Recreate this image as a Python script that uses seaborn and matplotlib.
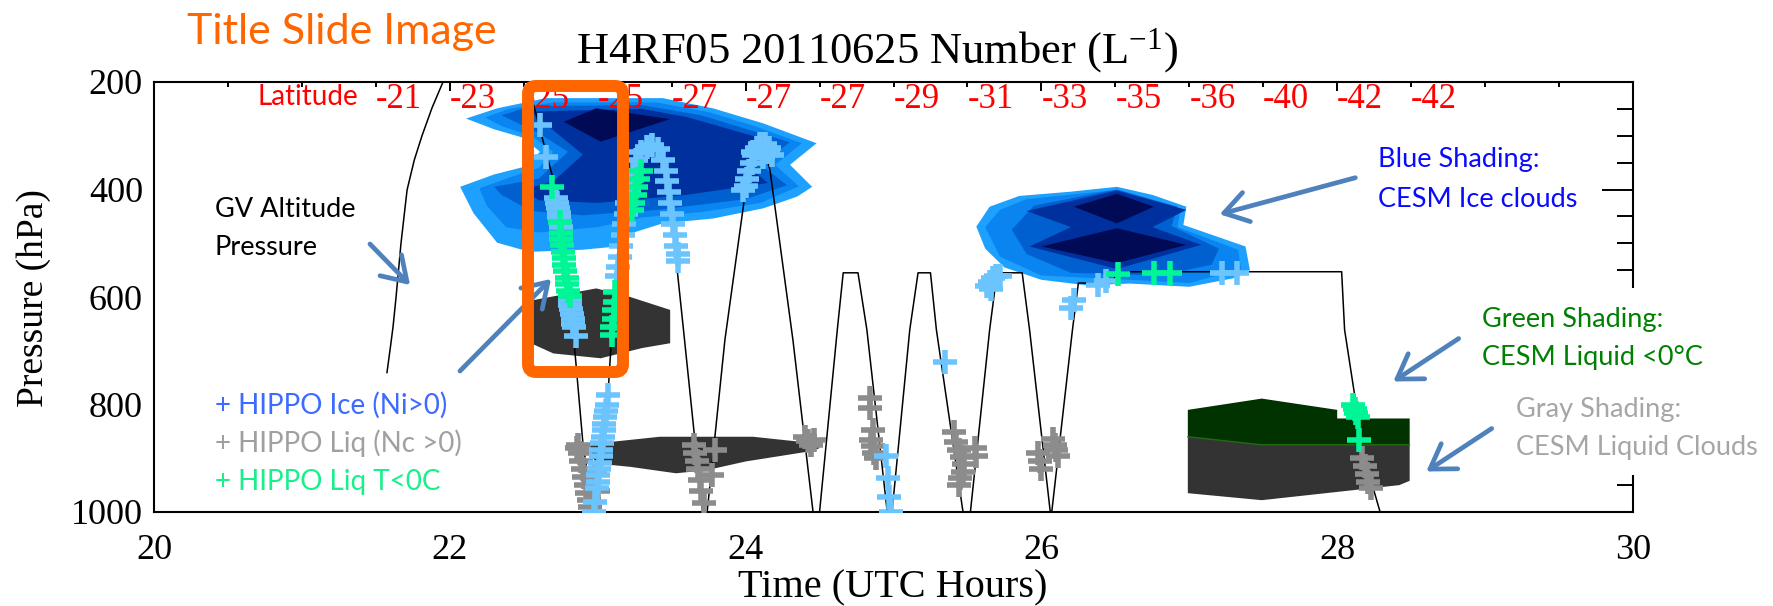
import matplotlib
matplotlib.use("Agg")
import matplotlib.pyplot as plt
import matplotlib.transforms as mtransforms
from matplotlib.patches import FancyBboxPatch, FancyArrowPatch, Rectangle
from matplotlib.ticker import MultipleLocator
import pandas as pd
import seaborn as sns

W, H = 1774, 606

# ---------------- GV flight track (UTC hours, hPa) ----------------
gv_time = [21.575, 21.60, 21.616, 21.636, 21.67, 21.711, 21.76, 21.812, 21.88, 21.954,
           22.05, 22.45, 22.53, 22.563,
           22.70, 22.833, 22.90, 22.968, 22.98, 23.07, 23.12, 23.16, 23.22, 23.28,
           23.37, 23.45, 23.50, 23.53, 23.58, 23.70, 23.71, 23.74, 23.86, 24.00,
           24.08, 24.12, 24.165, 24.32, 24.456, 24.50, 24.62, 24.66, 24.76, 24.82,
           24.956, 24.99, 25.11, 25.166, 25.25, 25.29, 25.47, 25.52, 25.65, 25.70,
           25.87, 25.92, 26.06, 26.07, 26.21, 26.25, 26.48, 26.51, 28.03, 28.05,
           28.12, 28.15, 28.29]
gv_pres = [741, 690, 656, 602, 500, 401, 345, 300, 248, 200,
           160, 160, 200, 239,
           382, 661, 872, 996, 1000, 779, 560, 450, 370, 330,
           318, 370, 450, 530, 661, 980, 1000, 1000, 680, 401,
           330, 315, 364, 680, 1000, 1000, 661, 555, 555, 661,
           996, 1000, 661, 555, 555, 661, 1000, 1000, 661, 555,
           555, 661, 1000, 1000, 661, 574, 574, 553, 553, 661,
           786, 866, 1000]

# ---------------- HIPPO observations ----------------
ice_time = [22.61, 22.65,
            22.72, 22.725, 22.73, 22.735, 22.74, 22.745, 22.75,
            22.81, 22.815, 22.82, 22.825, 22.83, 22.835, 22.84, 22.85,
            23.07, 23.06, 23.055, 23.05, 23.045, 23.04, 23.035, 23.03, 23.025,
            23.02, 23.015, 23.01, 23.005, 23.0, 22.995, 22.98, 22.975,
            23.13, 23.14, 23.15, 23.16, 23.17, 23.18, 23.19, 23.20, 23.21,
            23.22, 23.24, 23.26, 23.29, 23.33, 23.37, 23.41, 23.44, 23.46,
            23.47, 23.48, 23.49, 23.50, 23.51, 23.52, 23.53, 23.54, 23.545,
            23.98, 24.0, 24.01, 24.02, 24.04, 24.06, 24.08, 24.10, 24.13,
            24.16, 24.18, 24.05, 24.15, 24.12,
            24.95, 24.96, 24.97, 24.98, 25.35,
            25.63, 25.65, 25.67, 25.69, 25.72, 25.66,
            26.2, 26.22, 26.38, 26.44, 27.22, 27.32]
ice_pres = [280, 339,
            416, 425, 434, 443, 452, 461, 469,
            605, 614, 623, 632, 641, 650, 656, 672,
            782, 800, 812, 824, 836, 848, 860, 872, 884,
            896, 908, 920, 932, 944, 955, 981, 1000,
            560, 545, 525, 505, 485, 465, 445, 425, 405,
            385, 365, 345, 330, 320, 318, 325, 345, 365,
            385, 405, 425, 445, 465, 485, 505, 520, 533,
            400, 394, 380, 365, 350, 335, 322, 316, 316,
            322, 335, 330, 330, 340,
            896, 937, 972, 1000, 720,
            580, 572, 565, 560, 560, 585,
            620, 605, 578, 570, 555, 555]

liq_time = [22.86, 22.87, 22.88, 22.89, 22.90, 22.91, 22.92, 22.93, 22.94, 22.95, 22.98, 23.0,
            23.65, 23.66, 23.67, 23.68, 23.69, 23.70, 23.72, 23.79, 23.77,
            24.40, 24.42, 24.44, 24.46,
            24.84, 24.84, 24.86, 24.85, 24.86, 24.87, 24.88,
            25.41, 25.42, 25.44, 25.46, 25.48, 25.47, 25.45, 25.44, 25.55, 25.56,
            25.98, 25.99, 26.0, 26.08, 26.09, 26.10, 26.11,
            28.17, 28.19, 28.20, 28.21, 28.23]
liq_pres = [880, 875, 890, 905, 920, 935, 950, 965, 978, 990, 930, 960,
            875, 890, 905, 920, 940, 960, 983, 885, 931,
            860, 868, 876, 866,
            788, 807, 847, 866, 878, 890, 900,
            851, 870, 885, 897, 910, 925, 937, 950, 880, 895,
            890, 905, 920, 865, 875, 885, 895,
            900, 915, 930, 945, 955]

cold_time = [22.69, 22.745,
             22.75, 22.755, 22.76, 22.765, 22.77, 22.775, 22.78, 22.79, 22.795, 22.80, 22.81,
             23.29, 23.27, 23.26, 23.25, 23.24, 23.23,
             23.12, 23.12, 23.11, 23.11, 23.10, 23.10,
             26.52, 26.76, 26.87,
             28.11, 28.12, 28.13, 28.14, 28.15]
cold_pres = [395, 460,
             480, 492, 504, 516, 528, 540, 552, 564, 576, 588, 598,
             365, 380, 395, 410, 425, 438,
             590, 610, 625, 640, 655, 670,
             558, 555, 555,
             800, 808, 816, 824, 866]

# ---------------- CESM cloud shading (UTC hours, hPa) ----------------
ice_colors = ["#1ea0ff", "#0a84f0", "#0060d0", "#00309e", "#000a55"]

ice_upper_t = [
    [22.11, 22.32, 22.65, 23.44, 23.78, 24.12, 24.48, 24.30, 24.45, 24.35, 24.12, 23.78,
     23.44, 23.22, 23.13, 22.90, 22.54, 22.32, 22.16, 22.07, 22.30, 22.50, 22.61, 22.50, 22.30],
    [22.24, 22.40, 22.70, 23.40, 23.75, 24.05, 24.38, 24.20, 24.36, 24.10, 23.70, 23.30,
     23.00, 22.60, 22.38, 22.25, 22.20, 22.40, 22.60, 22.70, 22.55, 22.35],
    [22.35, 22.55, 23.30, 23.70, 24.30, 24.10, 24.28, 24.00, 23.40, 22.90, 22.55, 22.35,
     22.30, 22.60, 22.80, 22.60],
    [22.55, 23.30, 23.60, 24.20, 24.00, 24.15, 23.60, 23.00, 22.60, 22.50, 22.70, 22.90, 22.70],
    [22.77, 22.99, 23.49, 23.02],
]
ice_upper_p = [
    [268, 249, 230, 230, 249, 277, 314, 354, 395, 413, 435, 454,
     463, 482, 506, 512, 516, 499, 444, 395, 372, 358, 330, 304, 288],
    [266, 250, 238, 238, 256, 281, 314, 354, 394, 425, 442, 452,
     470, 480, 470, 430, 398, 378, 360, 330, 300, 282],
    [262, 245, 243, 262, 312, 354, 392, 418, 438, 448, 440, 410,
     395, 380, 330, 295],
    [255, 250, 265, 312, 352, 388, 410, 425, 420, 400, 385, 335, 290],
    [274, 249, 269, 311],
]

ice_lower_t = [
    [25.56, 25.65, 25.85, 26.20, 26.51, 26.75, 26.98, 26.96, 27.38, 27.41, 27.30, 27.00,
     26.60, 26.30, 26.00, 25.75, 25.62],
    [25.62, 25.72, 25.90, 26.50, 26.94, 26.92, 27.33, 27.35, 27.00, 26.60, 26.00, 25.72],
    [25.80, 25.95, 26.51, 26.92, 26.88, 27.20, 27.15, 26.80, 26.20, 25.90],
    [25.90, 26.51, 26.98, 26.75, 27.08, 26.51, 25.92, 26.20],
    [26.22, 26.51, 26.76, 26.51],
    [26.00, 26.51, 26.98, 26.51],
]
ice_lower_p = [
    [469, 432, 412, 404, 395, 410, 432, 466, 506, 550, 565, 581,
     575, 578, 568, 545, 510],
    [470, 438, 418, 401, 436, 470, 512, 548, 574, 568, 560, 525],
    [475, 430, 400, 432, 468, 510, 540, 560, 555, 520],
    [440, 402, 438, 470, 503, 548, 506, 470],
    [432, 408, 432, 463],
    [506, 472, 503, 537],
]
ice_lower_level = [0, 1, 2, 3, 4, 4]

liq_t = [
    [22.50, 22.56, 22.99, 23.22, 23.49, 23.49, 23.30, 23.02, 22.70, 22.50],
    [22.95, 23.11, 23.42, 24.05, 24.46, 24.50, 24.46, 24.00, 23.74, 23.53, 23.22, 23.00, 22.95],
    [26.99, 27.49, 28.49, 28.49, 28.42, 27.49, 26.99],
]
liq_p = [
    [640, 606, 584, 600, 624, 686, 695, 714, 705, 680],
    [875, 869, 860, 860, 872, 881, 886, 906, 922, 928, 916, 910, 895],
    [860, 875, 875, 942, 950, 978, 965],
]
cold_liq_t = [26.99, 27.49, 28.00, 28.00, 28.49, 28.49, 27.49, 26.99]
cold_liq_p = [810, 789, 810, 826, 826, 875, 875, 860]

# ---------------- latitude along the track ----------------
lat_time = [21.5, 22.0, 22.5, 23.0, 23.5, 24.0, 24.5, 25.0, 25.5, 26.0, 26.5, 27.0, 27.5, 28.0, 28.5]
lat_labels = ["-21", "-23", "-25", "-25", "-27", "-27", "-27", "-29", "-31", "-33",
              "-35", "-36", "-40", "-42", "-42"]

# ---------------- style ----------------
sns.set_theme(style="white")
plt.rcParams["font.family"] = ["Liberation Serif", "DejaVu Serif"]
plt.rcParams["mathtext.fontset"] = "custom"
plt.rcParams["mathtext.rm"] = "Liberation Serif"
plt.rcParams["mathtext.default"] = "regular"
for key in ("text.color", "axes.labelcolor", "xtick.color", "ytick.color", "axes.edgecolor"):
    plt.rcParams[key] = "black"

SANS = ["Lato", "DejaVu Sans"]

fig = plt.figure(figsize=(W / 100, H / 100), dpi=100)
fig.patch.set_facecolor("white")
ax = fig.add_axes([154 / W, 1 - 512 / H, (1633 - 154) / W, (512 - 82) / H])
ax.set_facecolor("white")

# model cloud shading
for t, p, c in zip(ice_upper_t, ice_upper_p, ice_colors):
    ax.fill(t, p, color=c, lw=0, zorder=1)
for t, p, lev in zip(ice_lower_t, ice_lower_p, ice_lower_level):
    ax.fill(t, p, color=ice_colors[lev], lw=0, zorder=1)
for t, p in zip(liq_t, liq_p):
    ax.fill(t, p, color="#333333", lw=0, zorder=1)
ax.fill(cold_liq_t, cold_liq_p, color="#003300", lw=0, zorder=1)
ax.plot([26.99, 27.49, 28.49], [860, 875, 875], color="#1f6b0f", lw=1.0, zorder=1.5)

# flight track
track = pd.DataFrame({"time": gv_time, "pressure": gv_pres})
sns.lineplot(data=track, x="time", y="pressure", sort=False, estimator=None,
             color="black", lw=1.1, ax=ax, zorder=3)

# HIPPO samples
for tt, pp, c in [(liq_time, liq_pres, "#8c8c8c"),
                  (ice_time, ice_pres, "#6cc4ff"),
                  (cold_time, cold_pres, "#00f596")]:
    sns.scatterplot(x=tt, y=pp, marker="+", s=280, color=c, linewidth=4.0,
                    ax=ax, zorder=4, legend=False)

ax.set_xlim(20, 30)
ax.set_ylim(1000, 200)
ax.xaxis.set_major_locator(MultipleLocator(2))
ax.xaxis.set_minor_locator(MultipleLocator(0.5))
ax.yaxis.set_major_locator(MultipleLocator(200))
ax.yaxis.set_minor_locator(MultipleLocator(50))
ax.set_xlabel("")
ax.set_ylabel("")
ax.tick_params(which="both", direction="in", top=True, right=True, width=1.4, color="black")
ax.tick_params(axis="y", which="major", length=22, labelsize=26, pad=8)
ax.tick_params(axis="y", which="minor", length=11.5)
ax.tick_params(axis="x", which="major", length=6.5, labelsize=26, pad=16)
ax.tick_params(axis="x", which="minor", length=3.5)
for s in ax.spines.values():
    s.set_color("black")
    s.set_linewidth(1.5)

# latitude labels along the top
trans = mtransforms.blended_transform_factory(ax.transData, ax.transAxes)
for t, lab in zip(lat_time, lat_labels):
    ax.text(t, 0.939, lab, transform=trans, color="red", fontsize=25,
            ha="left", va="baseline", zorder=6)


def ftext(x, y, s, **kw):
    fig.text(x / W, 1 - y / H, s, **kw)


ftext(877, 51, "H4RF05 20110625 Number (L$^{-1}$)", fontsize=32, ha="center", va="center")
ftext(893, 588, "Time (UTC Hours)", fontsize=29, ha="center", va="center")
ftext(34, 298, "Pressure (hPa)", fontsize=27, ha="center", va="center", rotation=90)

# slide annotations
ident = mtransforms.IdentityTransform()
fig.add_artist(Rectangle((1475, H - 475), W - 1475, 475 - 288, transform=ident,
                         fc="white", ec="none", zorder=9))

ftext(187, 44, "Title Slide Image", family=SANS, fontsize=31, color="#ff6600", va="baseline")
ftext(257, 105, "Latitude", family=SANS, fontsize=20, color="red", va="baseline", zorder=11)
ftext(215, 217, "GV Altitude", family=SANS, fontsize=19.5, color="black", va="baseline")
ftext(215, 255, "Pressure", family=SANS, fontsize=19.5, color="black", va="baseline")
ftext(215, 414, "+ HIPPO Ice (Ni>0)", family=SANS, fontsize=20, color="#3d6bff", va="baseline")
ftext(215, 452, "+ HIPPO Liq (Nc >0)", family=SANS, fontsize=20, color="#a0a0a0", va="baseline")
ftext(215, 490, "+ HIPPO Liq T<0C", family=SANS, fontsize=20, color="#1aef8c", va="baseline")
ftext(1378, 167, "Blue Shading:", family=SANS, fontsize=19.5, color="#0a0aff", va="baseline")
ftext(1378, 207, "CESM Ice clouds", family=SANS, fontsize=19.5, color="#0a0aff", va="baseline")
ftext(1482, 327, "Green Shading:", family=SANS, fontsize=19.5, color="#008000", va="baseline", zorder=11)
ftext(1482, 365, "CESM Liquid <0°C", family=SANS, fontsize=19.5, color="#008000", va="baseline", zorder=11)
ftext(1516, 417, "Gray Shading:", family=SANS, fontsize=19.5, color="#a6a6a6", va="baseline", zorder=11)
ftext(1516, 455, "CESM Liquid Clouds", family=SANS, fontsize=19.5, color="#a6a6a6", va="baseline", zorder=11)

arrows = [((368, 242), (412, 287)),
          ((458, 373), (553, 277)),
          ((1358, 177), (1217, 215)),
          ((1461, 337), (1391, 383)),
          ((1494, 427), (1424, 473))]
for (x0, y0), (x1, y1) in arrows:
    fig.add_artist(FancyArrowPatch((x0, H - y0), (x1, H - y1), transform=ident,
                                   arrowstyle="->,head_length=0.7,head_width=0.45",
                                   mutation_scale=24, lw=3.4, color="#4f81bd", zorder=12))

fig.add_artist(FancyBboxPatch((528, H - 372), 623 - 528, 372 - 86, transform=ident,
                              boxstyle="round,pad=0,rounding_size=8",
                              ec="#ff6600", fc="none", lw=8.6, zorder=13))

fig.savefig("out.png", dpi=100, facecolor="white")
